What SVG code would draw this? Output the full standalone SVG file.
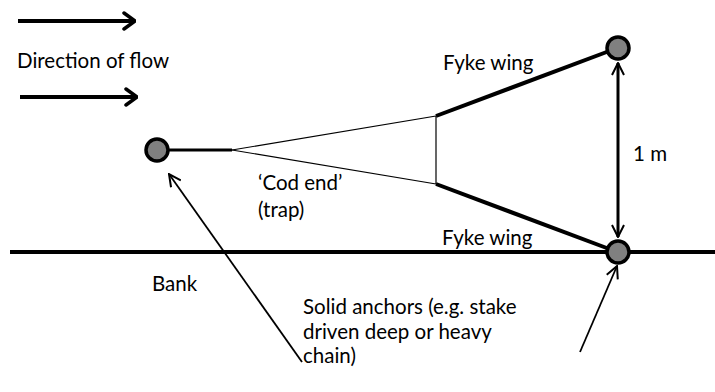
<svg xmlns="http://www.w3.org/2000/svg" width="715" height="392" viewBox="0 0 715 392">
<defs>
<style>
text{font-family:Lato,"Open Sans","Liberation Sans",sans-serif;font-size:20.5px;fill:#000}
.thick{stroke:#000;stroke-width:4;fill:none}
.thin{stroke:#000;stroke-width:1.2;fill:none}
.ptr{stroke:#000;stroke-width:1.8;fill:none}
.anchor{fill:#808080;stroke:#000;stroke-width:3.5}
</style>
<marker id="ah" viewBox="0 0 14 14" refX="13" refY="7" markerWidth="14" markerHeight="14" markerUnits="userSpaceOnUse" orient="auto-start-reverse">
<path d="M1,1 L13,7 L1,13" fill="none" stroke="#000" stroke-width="2"/>
</marker>
<marker id="ahb" viewBox="0 0 14 20" refX="13" refY="10" markerWidth="14" markerHeight="20" markerUnits="userSpaceOnUse" orient="auto-start-reverse">
<path d="M2,2 L13,10 L2,18" fill="none" stroke="#000" stroke-width="3.5" stroke-linecap="round" stroke-linejoin="round"/>
</marker>
</defs>
<g id="connectors">
<line class="thick" x1="18" y1="21" x2="135" y2="21" marker-end="url(#ahb)"/>
<line class="thick" x1="20" y1="97" x2="137" y2="97" marker-end="url(#ahb)"/>
<line class="thick" x1="10" y1="252" x2="715" y2="252"/>
<line x1="168" y1="150" x2="232" y2="150" stroke="#000" stroke-width="3"/>
<line class="thin" x1="232" y1="150" x2="436" y2="116"/>
<line class="thin" x1="232" y1="150" x2="436" y2="184"/>
<line class="thin" x1="436" y1="116" x2="436" y2="184"/>
<line class="thick" x1="436" y1="116" x2="612" y2="50"/>
<line class="thick" x1="436" y1="184" x2="612" y2="250"/>
<line x1="618" y1="63" x2="618" y2="237" stroke="#000" stroke-width="3" marker-start="url(#ah)" marker-end="url(#ah)"/>
<line class="ptr" x1="302" y1="362" x2="169" y2="174" marker-end="url(#ah)"/>
<line class="ptr" x1="580" y1="352" x2="617" y2="266" marker-end="url(#ah)"/>
</g>
<g id="anchor-left"><circle class="anchor" cx="157" cy="150" r="11"/></g>
<g id="anchor-top"><circle class="anchor" cx="618" cy="48" r="11"/></g>
<g id="anchor-bottom"><circle class="anchor" cx="618" cy="252" r="11"/></g>
<g id="labels">
<text x="17" y="68">Direction of flow</text>
<text x="443" y="70">Fyke wing</text>
<text x="442" y="245">Fyke wing</text>
<text x="633" y="161">1 m</text>
<text x="258" y="190">‘Cod end’</text>
<text x="258" y="217">(trap)</text>
<text x="152" y="291">Bank</text>
<text x="303" y="314">Solid anchors (e.g. stake</text>
<text x="303" y="339">driven deep or heavy</text>
<text x="303" y="363">chain)</text>
</g>
</svg>
